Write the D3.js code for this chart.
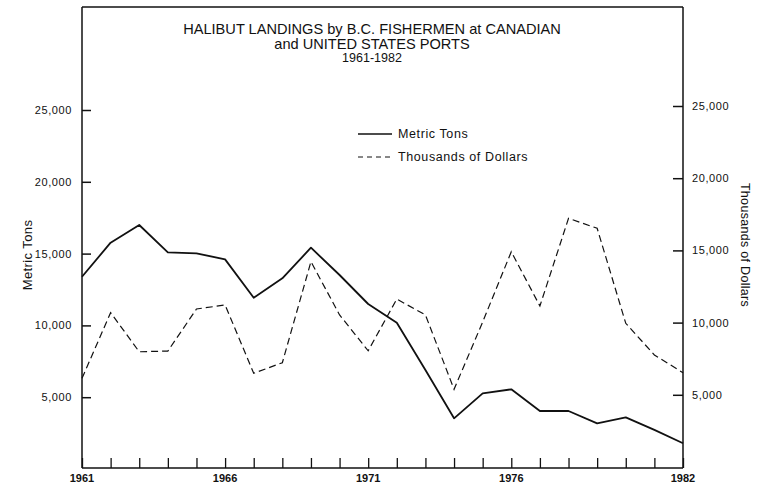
<!DOCTYPE html>
<html>
<head>
<meta charset="utf-8">
<script src="https://cdn.jsdelivr.net/npm/d3@7"></script>
<style>
  body { margin: 0; background: #fff; }
  text { font-family: "Liberation Sans", Arial, sans-serif; fill: #111; }
</style>
</head>
<body>
<svg id="chart" width="763" height="490"></svg>
<script>
(function (d3) {
    "use strict";

    /***** Données *****/
    const years = d3.range(1961, 1983);
    const metricTons = [13390, 15760, 16990, 15090, 15020, 14600, 11930, 13280, 15410, 13510, 11490,
                        10190, 6890, 3530, 5270, 5550, 4040, 4040, 3180, 3600, 2720, 1790];
    const dollars = [6140, 10690, 7980, 8030, 10940, 11220, 6490, 7220, 14220, 10530, 8050,
                     11630, 10530, 5380, 10040, 14910, 11150, 17220, 16530, 9950, 7760, 6530];
    const yTicks = [5000, 10000, 15000, 20000, 25000];
    const xLabels = [1961, 1966, 1971, 1976, 1982];
    const titleLines = ["HALIBUT LANDINGS by B.C. FISHERMEN at CANADIAN", "and UNITED STATES PORTS", "1961-1982"];

    /***** Configuration *****/
    const left = 82, right = 683, top = 7, bottom = 468;

    const svg = d3.select("#chart");

    var x = d3.scaleLinear().domain([1961, 1982]).range([left, right]);
    var yLeft = d3.scaleLinear().domain([0, 25000]).range([469, 110]);
    var yRight = d3.scaleLinear().domain([0, 25000]).range([467, 106]);

    var fmt = d3.format(",");

    // Cadre du graphique
    svg.append("line").attr("x1", left).attr("x2", right).attr("y1", top).attr("y2", top)
        .attr("stroke", "#111").attr("stroke-width", 1.5);

    // Axe gauche (graduations vers l'intérieur)
    var axisL = svg.append("g").attr("transform", "translate(" + left + ",0)")
        .call(d3.axisRight(yLeft).tickValues(yTicks).tickSize(9).tickFormat(""));
    axisL.select(".domain").remove();
    axisL.append("line").attr("y1", top).attr("y2", bottom).attr("stroke", "#111").attr("stroke-width", 1.5);
    axisL.selectAll(".tick line").attr("stroke", "#111").attr("stroke-width", 1.5);
    svg.selectAll(".ylab-l").data(yTicks).enter().append("text")
        .attr("x", 72).attr("y", d => yLeft(d) + 4)
        .attr("text-anchor", "end").attr("font-size", 11).attr("letter-spacing", 0.6)
        .text(fmt);

    // Axe droit
    var axisR = svg.append("g").attr("transform", "translate(" + right + ",0)")
        .call(d3.axisLeft(yRight).tickValues(yTicks).tickSize(10).tickFormat(""));
    axisR.select(".domain").remove();
    axisR.append("line").attr("y1", top).attr("y2", bottom).attr("stroke", "#111").attr("stroke-width", 1.5);
    axisR.selectAll(".tick line").attr("stroke", "#111").attr("stroke-width", 1.5);
    svg.selectAll(".ylab-r").data(yTicks).enter().append("text")
        .attr("x", 692).attr("y", d => yRight(d) + 4)
        .attr("text-anchor", "start").attr("font-size", 11).attr("letter-spacing", 0.6)
        .text(fmt);

    // Axe du bas
    var axisB = svg.append("g").attr("transform", "translate(0," + bottom + ")")
        .call(d3.axisTop(x).tickValues(years).tickSize(10).tickFormat(""));
    axisB.select(".domain").remove();
    axisB.append("line").attr("x1", left).attr("x2", right).attr("stroke", "#111").attr("stroke-width", 1.5);
    axisB.selectAll(".tick line").attr("stroke", "#111").attr("stroke-width", 1.3);
    svg.selectAll(".xlab").data(xLabels).enter().append("text")
        .attr("x", d => x(d)).attr("y", 482)
        .attr("text-anchor", "middle").attr("font-size", 11).attr("font-weight", "bold")
        .text(d => d);

    // Titres des axes
    svg.append("text").attr("transform", "translate(32,255) rotate(-90)")
        .attr("text-anchor", "middle").attr("font-size", 13).attr("letter-spacing", 0.4)
        .text("Metric Tons");
    svg.append("text").attr("transform", "translate(741,245) rotate(90)")
        .attr("text-anchor", "middle").attr("font-size", 12.5).attr("letter-spacing", 0.3)
        .text("Thousands of Dollars");

    // Titre
    svg.selectAll(".title").data(titleLines).enter().append("text")
        .attr("x", 372).attr("y", (d, i) => [34, 49, 62][i])
        .attr("text-anchor", "middle")
        .attr("font-size", (d, i) => i === 2 ? 12.5 : 14.6)
        .text(d => d);

    // Séries
    var lineL = d3.line().x((d, i) => x(years[i])).y(d => yLeft(d));
    var lineR = d3.line().x((d, i) => x(years[i])).y(d => yRight(d));

    svg.append("path").datum(dollars).attr("d", lineR)
        .attr("fill", "none").attr("stroke", "#111").attr("stroke-width", 1.2)
        .attr("stroke-dasharray", "7,4");
    svg.append("path").datum(metricTons).attr("d", lineL)
        .attr("fill", "none").attr("stroke", "#111").attr("stroke-width", 1.8)
        .attr("stroke-linejoin", "round");

    // Légende
    var legend = svg.append("g");
    legend.append("line").attr("x1", 358).attr("x2", 392).attr("y1", 134).attr("y2", 134)
        .attr("stroke", "#111").attr("stroke-width", 1.5);
    legend.append("text").attr("x", 398).attr("y", 138).attr("font-size", 12.5).attr("letter-spacing", 0.6)
        .text("Metric Tons");
    legend.append("line").attr("x1", 358).attr("x2", 392).attr("y1", 157).attr("y2", 157)
        .attr("stroke", "#111").attr("stroke-width", 1).attr("stroke-dasharray", "5,4");
    legend.append("text").attr("x", 398).attr("y", 161).attr("font-size", 12.5).attr("letter-spacing", 0.6)
        .text("Thousands of Dollars");
})(d3);
</script>
</body>
</html>
